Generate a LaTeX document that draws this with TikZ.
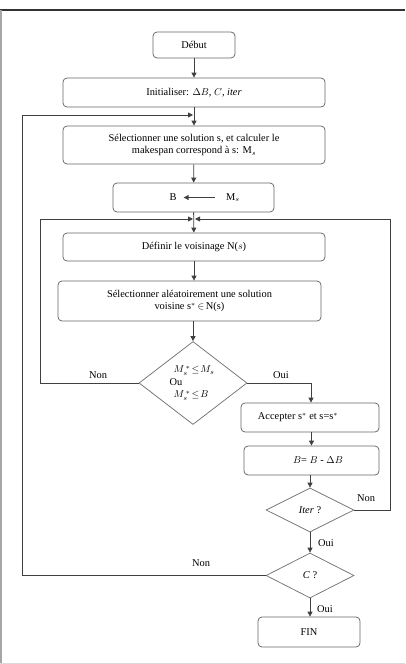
\documentclass[tikz,border=0pt]{standalone}
\usepackage{fontspec}
\setmainfont{Liberation Serif}
\usetikzlibrary{shapes.geometric,arrows.meta}
\begin{document}
\begin{tikzpicture}[x=1pt,y=1pt,
  font=\fontsize{10.4}{12.5}\selectfont,
  box/.style={draw=black!60,line width=0.75pt,rounded corners=4pt,minimum width=#1,inner sep=0pt,align=center},
  dia/.style={draw=black!55,line width=0.75pt,diamond,inner sep=0pt,align=left},
  conn/.style={draw=black!75,line width=0.85pt},
  arr/.style={conn,-{Triangle[length=5pt,width=5pt]}},
  lbl/.style={inner sep=1pt}]
\useasboundingbox (0,0) rectangle (405,-664);
% frame
\draw[black!80,line width=1.2pt] (0,-10) -- (405,-10);
\draw[black!35,line width=1.5pt] (0.75,-10) -- (0.75,-664);
\draw[black!15,line width=1pt] (0,-663) -- (405,-663);
% nodes
\node[box=82pt,minimum height=26pt] (debut) at (194,-45) {Début};
\node[box=262pt,minimum height=29pt] (init) at (194,-92.5) {Initialiser: $\Delta B$, $C$, \textit{iter}};
\node[box=262pt,minimum height=38pt] (sel) at (194,-145) {Sélectionner une solution s, et calculer le\\makespan correspond à s: M$_s$};
\node[box=161pt,minimum height=29pt] (bbox) at (193.5,-197.5) {};
\node[inner sep=1pt] (bl) at (173,-197.5) {B};
\node[inner sep=1pt] (ml) at (233,-197.5) {M$_s$};
\node[box=262pt,minimum height=28pt] (def) at (194,-247) {Définir le voisinage N($s$)};
\node[box=263pt,minimum height=40pt] (selal) at (189.5,-301) {Sélectionner aléatoirement une solution\\voisine s$^{*}$\,$\in$\,N(s)};
\node[dia,minimum width=108pt,minimum height=83pt] (d1) at (193,-383) {};
\node[align=left,inner sep=0pt] (d1t) at (192,-383) {\hspace*{4pt}$M_s^{\,*}\!\le\! M_s$\\Ou\\\hspace*{4pt}$M_s^{\,*}\!\le\! B$};
\node[box=138pt,minimum height=29pt] (acc) at (310,-417.5) {};
\node[inner sep=0pt] (acct) at (298,-417.5) {Accepter s$^{*}$ et s=s$^{*}$};
\node[box=135pt,minimum height=29pt] (bupd) at (311.5,-460.5) {};
\node[inner sep=0pt] (bupdt) at (318,-460.5) {$B$= $B$ - $\Delta B$};
\node[dia,minimum width=88pt,minimum height=44pt] (iter) at (310,-510) {\textit{Iter} ?};
\node[dia,minimum width=88pt,minimum height=45pt] (cq) at (310,-575.5) {\textit{C} ?};
\node[box=102pt,minimum height=30pt] (fin) at (309,-632) {FIN};
% coordinates
\coordinate (top1) at (193,-115);
\coordinate (top2l) at (193,-219);
\coordinate (top2r) at (195,-219);
\coordinate (lo1) at (22,-575.5);
\coordinate (lo1t) at (22,-115);
\coordinate (lo2) at (40,-383);
\coordinate (lo2t) at (40,-219);
\coordinate (ro) at (390,-510);
\coordinate (rot) at (390,-219);
\coordinate (ouic) at (311,-383);
% connectors
\draw[arr] (debut) -- (init);
\draw[arr] (init.south) -- (sel.north);
\draw[arr] (sel) -- (bbox);
\draw[arr] ([xshift=-10pt]ml.west) -- ([xshift=6pt]bl.east);
\draw[arr] (bbox) -- (def);
\draw[arr] (def.south) -- (def.south |- selal.north);
\draw[arr] (selal.south -| d1.north) -- (d1.north);
\draw[arr] (cq.west) -- (lo1) -- (lo1t) -- (top1);
\draw[arr] (d1.west) -- (lo2) -- (lo2t) -- (top2l);
\draw[arr] (iter.east) -- (ro) -- (rot) -- (top2r);
\draw[arr] (d1.east) -- (ouic) -- (ouic |- acc.north);
\draw[arr] (acc.south -| bupd.north) -- (bupd.north);
\draw[arr] (bupd.south -| iter.north) -- (iter.north);
\draw[arr] (iter) -- (cq);
\draw[arr] (cq.south) -- (cq.south |- fin.north);
% labels
\node[lbl] (n1) at (98,-375) {Non};
\node[lbl] (o1) at (281,-375) {Oui};
\node[lbl] (n2) at (366,-498) {Non};
\node[lbl] (o2) at (326,-543) {Oui};
\node[lbl] (n3) at (201,-563) {Non};
\node[lbl] (o3) at (325,-609) {Oui};
\end{tikzpicture}
\end{document}
